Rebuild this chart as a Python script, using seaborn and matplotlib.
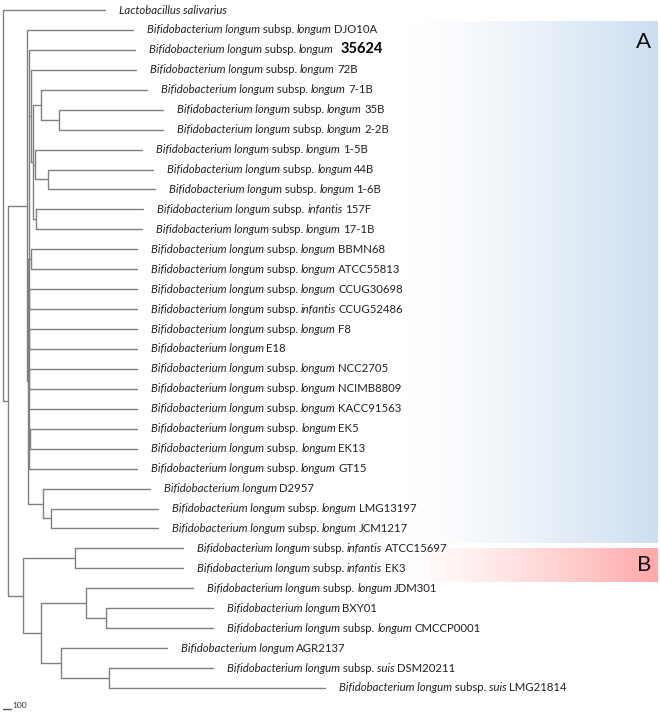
import numpy as np
import pandas as pd
import matplotlib
matplotlib.use("Agg")
import matplotlib.pyplot as plt
import seaborn as sns
from matplotlib.colors import LinearSegmentedColormap

# leaves, top to bottom
strains = ["Lactobacillus salivarius", "DJO10A", "35624", "72B", "7-1B", "35B", "2-2B",
           "1-5B", "44B", "1-6B", "157F", "17-1B", "BBMN68", "ATCC55813", "CCUG30698",
           "CCUG52486", "F8", "E18", "NCC2705", "NCIMB8809", "KACC91563", "EK5", "EK13",
           "GT15", "D2957", "LMG13197", "JCM1217", "ATCC15697", "EK3", "JDM301", "BXY01",
           "CMCCP0001", "AGR2137", "DSM20211", "LMG21814"]
subsp = ["", "longum", "longum", "longum", "longum", "longum", "longum",
         "longum", "longum", "longum", "infantis", "longum", "longum", "longum", "longum",
         "infantis", "longum", "", "longum", "longum", "longum", "longum", "longum",
         "longum", "", "longum", "longum", "infantis", "infantis", "longum", "",
         "longum", "", "suis", "suis"]

# tree edges (child, parent, branch length)
edge_child = ["Lactobacillus salivarius", "I", "A", "DJO10A", "A1", "A2", "35624", "A3", "72B",
              "A4", "A5", "7-1B", "A5b", "35B", "2-2B", "A6", "1-5B", "A6b", "44B", "1-6B",
              "A7", "157F", "17-1B", "P1", "BBMN68", "ATCC55813", "P2", "CCUG30698",
              "CCUG52486", "P3", "F8", "E18", "P4", "NCC2705", "NCIMB8809", "KACC91563",
              "P5", "EK5", "EK13", "GT15", "D", "D2957", "Db", "LMG13197", "JCM1217",
              "BR", "B", "ATCC15697", "EK3", "C", "C1", "JDM301", "C1b", "BXY01",
              "CMCCP0001", "C2", "AGR2137", "C2b", "DSM20211", "LMG21814"]
edge_parent = ["R", "R", "I", "A", "A", "A1", "A2", "A2", "A3",
               "A3", "A4", "A5", "A5", "A5b", "A5b", "A4", "A6", "A6", "A6b", "A6b",
               "A4", "A7", "A7", "A2", "P1", "P1", "A2", "P2",
               "P2", "A2", "P3", "P3", "A2", "P4", "P4", "A2",
               "A2", "P5", "P5", "A2", "A1", "D", "D", "Db", "Db",
               "I", "BR", "B", "B", "BR", "C", "C1", "C1", "C1b",
               "C1b", "C", "C2", "C2", "C2b", "C2b"]
edge_len = [1275, 63, 238, 1325, 9, 10, 1331, 31, 1313,
            25, 100, 1325, 225, 1300, 1300, 25, 1338, 163, 1313, 1338,
            38, 1338, 1325, 31, 1325, 1325, 6, 1350,
            1350, 6, 1350, 1350, 6, 1350, 1350, 1356,
            13, 1344, 1344, 1356, 191, 1338, 100, 1338, 1338,
            188, 650, 1350, 1350, 225, 563, 1338, 250, 1338,
            1338, 250, 1325, 600, 1300, 2700]

clade_names = ["A", "B"]
clade_rows = [(0.6, 26.75), (27.0, 28.7)]
clade_colors = ["#cddef0", "#ffa8a8"]

# ---- layout ----
children = {}
for c, p, l in zip(edge_child, edge_parent, edge_len):
    children.setdefault(p, []).append((c, l))

xpos, ypos = {"R": 0.0}, {}
def place(node):
    for c, l in children.get(node, []):
        xpos[c] = xpos[node] + l
        place(c)
place("R")

def get_y(node):
    if node not in children:
        ypos[node] = strains.index(node)
    else:
        ys = [get_y(c) for c, _ in children[node]]
        ypos[node] = (min(ys) + max(ys)) / 2
    return ypos[node]
get_y("R")

rows = []
seg = 0
for c, p in zip(edge_child, edge_parent):
    rows += [(seg, xpos[p], ypos[c]), (seg, xpos[c], ypos[c])]
    seg += 1
for node, kids in children.items():
    ys = [ypos[k] for k, _ in kids]
    rows += [(seg, xpos[node], min(ys)), (seg, xpos[node], max(ys))]
    seg += 1
segs = pd.DataFrame(rows, columns=["seg", "x", "y"])

# ---- plot ----
sns.set_style("white")
plt.rcParams["font.family"] = ["Lato", "DejaVu Sans"]

fig = plt.figure(figsize=(6.6, 7.16), dpi=100)
ax = fig.add_axes([0, 0, 1, 1])
px = 12.5  # units per pixel

# clade gradients
for name, (y0, y1), col in zip(clade_names, clade_rows, clade_colors):
    cmap = LinearSegmentedColormap.from_list(name, ["#ffffff", col])
    grad = np.linspace(0, 1, 256)[None, :] ** 1.3
    x0 = (405 if name == "A" else 400) * px
    ax.imshow(grad, cmap=cmap, aspect="auto", extent=(x0, 655 * px, y1, y0),
              zorder=0, interpolation="bicubic", vmin=0, vmax=1)
    ax.text(641 * px, (y0 + y1) / 2 if name == "B" else 1.6, name, fontsize=16,
            ha="center", va="center", color="#111111")

sns.lineplot(data=segs, x="x", y="y", units="seg", estimator=None, sort=False,
             color="#808080", linewidth=1.0, ax=ax, legend=False)
ax.set_xlim(-3 * px, 657 * px)
ax.set_ylim((716 - 10) / 19.94, -10 / 19.94)
ax.axis("off")

fs = 8.2
tc = "#222222"
for i, (s, sp) in enumerate(zip(strains, subsp)):
    if i == 0:
        ax.annotate(s, xy=(xpos[s], i), xytext=(10, 0), textcoords="offset points",
                    fontsize=fs, style="italic", va="center", color=tc)
        continue
    t = ax.annotate("Bifidobacterium longum", xy=(xpos[s], i), xytext=(10, 0),
                    textcoords="offset points", fontsize=fs, style="italic",
                    va="center", color=tc)
    if sp:
        t = ax.annotate(" subsp. ", xy=(1, 0), xycoords=t, fontsize=fs, va="bottom", color=tc)
        t = ax.annotate(sp, xy=(1, 0), xycoords=t, fontsize=fs, style="italic",
                        va="bottom", color=tc)
    if s == "35624":
        ax.annotate(s, xy=(1, 0), xycoords=t, xytext=(4.5, -0.5), textcoords="offset points",
                    fontsize=10.5, fontweight="bold", va="bottom", color="#000000")
    else:
        ax.annotate(s, xy=(1, 0), xycoords=t, xytext=(1.6, 0), textcoords="offset points",
                    fontsize=fs, va="bottom", color=tc)

# scale bar
ybar = (709 - 10) / 19.94
ax.plot([0, 100], [ybar, ybar], color="#555555", lw=1.0)
ax.text(120, ybar, "100", fontsize=6, va="bottom", ha="left", color="#333333")

fig.savefig("out.png", dpi=100)
